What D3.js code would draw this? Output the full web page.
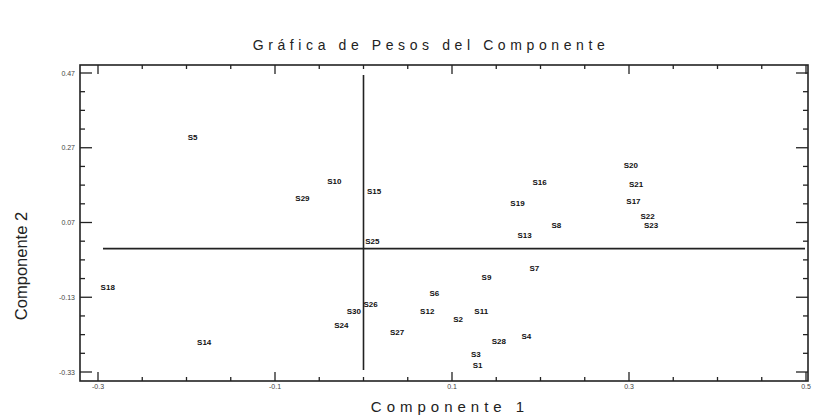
<!DOCTYPE html>
<html>
<head>
<meta charset="utf-8">
<script src="https://cdn.jsdelivr.net/npm/d3@7"></script>
<style>
  body { margin: 0; background: #fff; }
  svg { display: block; font-family: Arial, "Liberation Sans", sans-serif; }
</style>
</head>
<body>
<div id="chart-area"></div>
<script>
// component weights, one entry per variable
let names = ["S1","S2","S3","S4","S5","S6","S7","S8","S9","S10",
             "S11","S12","S13","S14","S15","S16","S17","S18","S19","S20",
             "S21","S22","S23","S24","S25","S26","S27","S28","S29","S30"];
let comp1 = [0.129, 0.107, 0.127, 0.184, -0.193, 0.080, 0.193, 0.218, 0.139, -0.033,
             0.133, 0.072, 0.182, -0.180, 0.012, 0.199, 0.305, -0.289, 0.174, 0.302,
             0.308, 0.321, 0.325, -0.025, 0.010, 0.008, 0.038, 0.153, -0.069, -0.011];
let comp2 = [-0.310, -0.187, -0.281, -0.235, 0.300, -0.118, -0.051, 0.064, -0.075, 0.182,
             -0.166, -0.166, 0.037, -0.251, 0.155, 0.179, 0.128, -0.102, 0.123, 0.225,
             0.174, 0.088, 0.064, -0.203, 0.021, -0.147, -0.222, -0.246, 0.136, -0.166];
let xTicks = [-0.3, -0.1, 0.1, 0.3, 0.5];
let xTickLabels = ["-0.3", "-0.1", "0.1", "0.3", "0.5"];
let yTicks = [-0.33, -0.13, 0.07, 0.27, 0.47];
let yTickLabels = ["-0.33", "-0.13", "0.07", "0.27", "0.47"];

const W = 821, H = 417;
const frameL = 80, frameR = 808, frameT = 65, frameB = 381;

let svg = d3.select('#chart-area').append('svg').attr('width', W).attr('height', H);

let x = d3.scaleLinear().domain([-0.3, 0.5]).range([98, 806]);
let y = d3.scaleLinear().domain([-0.33, 0.47]).range([372, 73]);

// minor tick positions every 0.05
let xMinor = d3.range(-0.3, 0.501, 0.05);
let yMinor = d3.range(-0.33, 0.471, 0.05);

let g = svg.append('g');

// frame
g.append('rect').attr('x', frameL).attr('y', frameT).attr('width', frameR - frameL).attr('height', frameB - frameT)
  .attr('fill', 'none').attr('stroke', '#222').attr('stroke-width', 1.6);

// ticks (inward on all four sides)
xMinor.forEach(function(v){
  let major = xTicks.some(t => Math.abs(t - v) < 1e-6);
  let len = major ? 9 : 4;
  g.append('line').attr('x1', x(v)).attr('x2', x(v)).attr('y1', frameB).attr('y2', frameB - len)
    .attr('stroke', '#222').attr('stroke-width', 1.3);
  g.append('line').attr('x1', x(v)).attr('x2', x(v)).attr('y1', frameT).attr('y2', frameT + len)
    .attr('stroke', '#222').attr('stroke-width', 1.3);
});
yMinor.forEach(function(v){
  let major = yTicks.some(t => Math.abs(t - v) < 1e-6);
  let len = major ? 12 : 5;
  g.append('line').attr('x1', frameL).attr('x2', frameL + len).attr('y1', y(v)).attr('y2', y(v))
    .attr('stroke', '#222').attr('stroke-width', 1.3);
  g.append('line').attr('x1', frameR).attr('x2', frameR - len).attr('y1', y(v)).attr('y2', y(v))
    .attr('stroke', '#222').attr('stroke-width', 1.3);
});

// tick labels
g.selectAll('.xtl').data(xTicks).enter().append('text')
  .attr('x', d => x(d)).attr('y', 389).attr('text-anchor', 'middle')
  .attr('font-size', 7).attr('fill', '#444').text((d, i) => xTickLabels[i]);
g.selectAll('.ytl').data(yTicks).enter().append('text')
  .attr('x', 75).attr('y', d => y(d) + 2.5).attr('text-anchor', 'end')
  .attr('font-size', 7).attr('fill', '#444').text((d, i) => yTickLabels[i]);

// zero reference lines
g.append('line').attr('x1', 103).attr('x2', 805).attr('y1', y(0)).attr('y2', y(0))
  .attr('stroke', '#222').attr('stroke-width', 1.6);
g.append('line').attr('x1', x(0)).attr('x2', x(0)).attr('y1', 75).attr('y2', 370)
  .attr('stroke', '#222').attr('stroke-width', 1.6);

// point labels
g.selectAll('.pt').data(names).enter().append('text')
  .attr('x', (d, i) => x(comp1[i])).attr('y', (d, i) => y(comp2[i]) + 3)
  .attr('text-anchor', 'middle').attr('font-size', 8).attr('font-weight', 'bold')
  .attr('fill', '#111').text(d => d);

// titles
svg.append('text').attr('x', 431).attr('y', 50).attr('text-anchor', 'middle')
  .attr('font-size', 14).attr('letter-spacing', 4.6).attr('fill', '#222')
  .text('Gráfica de Pesos del Componente');
svg.append('text').attr('x', 450).attr('y', 412).attr('text-anchor', 'middle')
  .attr('font-size', 15).attr('letter-spacing', 5).attr('fill', '#222')
  .text('Componente 1');
svg.append('text').attr('transform', 'translate(27,266) rotate(-90)').attr('text-anchor', 'middle')
  .attr('font-size', 16.5).attr('fill', '#222')
  .text('Componente 2');
</script>
</body>
</html>
